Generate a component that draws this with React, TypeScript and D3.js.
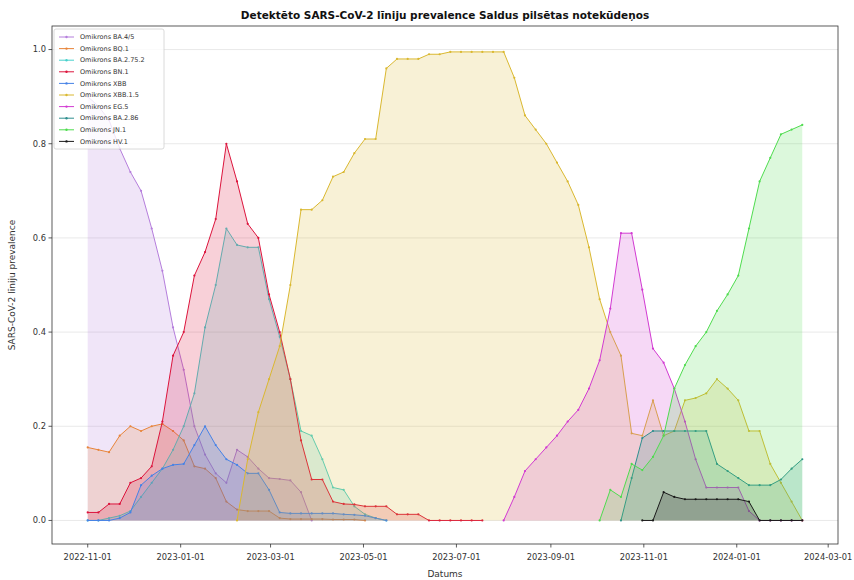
import * as d3 from "d3";

// weekly sampling, first sample 2022-11-01
const FIRST_WEEK = "2022-11-01";
const WEEK_COUNT = 68;

const SERIES_NAMES = [
  "Omikrons BA.4/5",
  "Omikrons BQ.1",
  "Omikrons BA.2.75.2",
  "Omikrons BN.1",
  "Omikrons XBB",
  "Omikrons XBB.1.5",
  "Omikrons EG.5",
  "Omikrons BA.2.86",
  "Omikrons JN.1",
  "Omikrons HV.1",
];
const SERIES_COLORS = [
  "#b57edc", "#e8853a", "#48d1cc", "#dc143c", "#4682e6",
  "#dab830", "#d23ad2", "#2f8f8f", "#4fdc4f", "#1a1a1a",
];
// index of the first week each series is reported for
const SERIES_START = [0, 0, 0, 0, 0, 14, 39, 50, 48, 52];

const BA45 = [0.9, 0.88, 0.85, 0.79, 0.74, 0.7, 0.62, 0.53, 0.41, 0.32, 0.2, 0.14, 0.1, 0.08, 0.15, 0.135, 0.11, 0.09, 0.088, 0.085, 0.06, 0];
const BQ1 = [0.155, 0.15, 0.145, 0.18, 0.2, 0.19, 0.2, 0.205, 0.19, 0.17, 0.115, 0.11, 0.09, 0.04, 0.023, 0.02, 0.02, 0.02, 0.005, 0.003, 0.003, 0.003, 0.003, 0.002, 0.002, 0.002, 0];
const BA2752 = [0, 0, 0.005, 0.01, 0.02, 0.05, 0.08, 0.11, 0.15, 0.2, 0.27, 0.41, 0.5, 0.62, 0.585, 0.58, 0.58, 0.47, 0.39, 0.3, 0.19, 0.18, 0.13, 0.07, 0.065, 0.03, 0.013, 0.005, 0];
const BN1 = [0.017, 0.017, 0.035, 0.035, 0.08, 0.09, 0.115, 0.21, 0.35, 0.4, 0.52, 0.57, 0.64, 0.8, 0.72, 0.63, 0.6, 0.48, 0.4, 0.3, 0.17, 0.087, 0.087, 0.04, 0.035, 0.034, 0.03, 0.03, 0.03, 0.013, 0.013, 0.013, 0, 0, 0, 0, 0, 0];
const XBB = [0, 0, 0, 0.005, 0.017, 0.075, 0.095, 0.11, 0.118, 0.12, 0.16, 0.2, 0.16, 0.13, 0.118, 0.1, 0.1, 0.065, 0.017, 0.015, 0.015, 0.015, 0.015, 0.015, 0.013, 0.012, 0.01, 0.005, 0];
const XBB15 = [0, 0.13, 0.23, 0.3, 0.37, 0.5, 0.66, 0.66, 0.68, 0.73, 0.74, 0.78, 0.81, 0.81, 0.96, 0.98, 0.98, 0.98, 0.99, 0.99, 0.995, 0.995, 0.995, 0.995, 0.995, 0.995, 0.94, 0.86, 0.83, 0.8, 0.76, 0.72, 0.67, 0.58, 0.47, 0.4, 0.35, 0.185, 0.18, 0.255, 0.18, 0.19, 0.255, 0.26, 0.27, 0.3, 0.28, 0.255, 0.19, 0.19, 0.12, 0.08, 0.04, 0];
const EG5 = [0, 0.05, 0.105, 0.13, 0.155, 0.18, 0.21, 0.235, 0.28, 0.34, 0.45, 0.61, 0.61, 0.49, 0.365, 0.335, 0.28, 0.21, 0.13, 0.07, 0.07, 0.07, 0.07, 0.02, 0, 0, 0, 0, 0];
const BA286 = [0, 0.09, 0.175, 0.19, 0.19, 0.19, 0.19, 0.19, 0.19, 0.12, 0.105, 0.09, 0.075, 0.075, 0.075, 0.087, 0.11, 0.13];
const JN1 = [0, 0.065, 0.05, 0.12, 0.107, 0.135, 0.18, 0.28, 0.33, 0.37, 0.4, 0.445, 0.48, 0.52, 0.62, 0.72, 0.77, 0.82, 0.83, 0.84];
const HV1 = [0, 0, 0.06, 0.05, 0.045, 0.045, 0.045, 0.045, 0.045, 0.045, 0.04, 0, 0, 0, 0, 0];

const SERIES_VALUES = [BA45, BQ1, BA2752, BN1, XBB, XBB15, EG5, BA286, JN1, HV1];

const X_TICKS = ["2022-11-01", "2023-01-01", "2023-03-01", "2023-05-01", "2023-07-01", "2023-09-01", "2023-11-01", "2024-01-01", "2024-03-01"];
const Y_TICKS = [0, 0.2, 0.4, 0.6, 0.8, 1.0];

const TITLE = "Detektēto SARS-CoV-2 līniju prevalence Saldus pilsētas notekūdeņos";
const X_LABEL = "Datums";
const Y_LABEL = "SARS-CoV-2 līniju prevalence";

const W = 854;
const H = 580;
const M = { left: 52, right: 16, top: 26, bottom: 36 };
const FONT = "DejaVu Sans, sans-serif";

const parse = d3.timeParse("%Y-%m-%d");
const weekDate = (k: number) => d3.timeDay.offset(parse(FIRST_WEEK)!, 7 * k);

type Pt = { date: Date; value: number };

export default function App() {
  const series = SERIES_NAMES.map((name, i) => ({
    name,
    color: SERIES_COLORS[i],
    points: SERIES_VALUES[i].map((v, j) => ({ date: weekDate(SERIES_START[i] + j), value: v })) as Pt[],
  }));

  const first = weekDate(0);
  const last = weekDate(WEEK_COUNT - 1);
  const pad = (last.getTime() - first.getTime()) * 0.05;

  const x = d3
    .scaleTime()
    .domain([new Date(first.getTime() - pad), new Date(last.getTime() + pad)])
    .range([M.left, W - M.right]);
  const y = d3.scaleLinear().domain([-0.05, 1.05]).range([H - M.bottom, M.top]);

  const line = d3.line<Pt>().x((d) => x(d.date)).y((d) => y(d.value));
  const area = d3
    .area<Pt>()
    .x((d) => x(d.date))
    .y0(y(0))
    .y1((d) => y(d.value));

  const plotL = M.left;
  const plotR = W - M.right;
  const plotT = M.top;
  const plotB = H - M.bottom;

  const legX = plotL + 2;
  const legY = plotT + 3;
  const rowH = 11.6;

  return (
    <svg
      width={W}
      height={H}
      style={{ position: "absolute", left: 0, top: 0, background: "#fff" }}
      fontFamily={FONT}
    >
      <rect x={0} y={0} width={W} height={H} fill="#fff" />

      {/* grid */}
      {Y_TICKS.map((t) => (
        <line key={t} x1={plotL} x2={plotR} y1={y(t)} y2={y(t)} stroke="#b0b0b0" strokeOpacity={0.35} strokeWidth={0.8} />
      ))}

      {/* areas + lines */}
      {series.map((s) => (
        <g key={s.name}>
          <path d={area(s.points)!} fill={s.color} fillOpacity={0.2} stroke="none" />
          <path d={line(s.points)!} fill="none" stroke={s.color} strokeWidth={1} />
          {s.points.map((p, j) => (
            <circle key={j} cx={x(p.date)} cy={y(p.value)} r={1.1} fill={s.color} />
          ))}
        </g>
      ))}

      {/* spines */}
      <rect x={plotL} y={plotT} width={plotR - plotL} height={plotB - plotT} fill="none" stroke="#333" strokeWidth={0.8} />

      {/* y axis */}
      {Y_TICKS.map((t) => (
        <g key={t}>
          <line x1={plotL - 3.5} x2={plotL} y1={y(t)} y2={y(t)} stroke="#333" strokeWidth={0.8} />
          <text x={plotL - 6} y={y(t)} dy="0.34em" textAnchor="end" fontSize={8.3} fill="#333">
            {d3.format(".1f")(t)}
          </text>
        </g>
      ))}

      {/* x axis */}
      {X_TICKS.map((t) => {
        const px = x(parse(t)!);
        return (
          <g key={t}>
            <line x1={px} x2={px} y1={plotB} y2={plotB + 3.5} stroke="#333" strokeWidth={0.8} />
            <text x={px} y={plotB + 16} textAnchor="middle" fontSize={8.3} fill="#333">
              {t}
            </text>
          </g>
        );
      })}

      <text x={(plotL + plotR) / 2} y={H - 3} textAnchor="middle" fontSize={9} fill="#333">
        {X_LABEL}
      </text>
      <text
        transform={`translate(${15},${(plotT + plotB) / 2}) rotate(-90)`}
        textAnchor="middle"
        fontSize={9}
        fill="#333"
      >
        {Y_LABEL}
      </text>
      <text x={(plotL + plotR) / 2} y={plotT - 7} textAnchor="middle" fontSize={10.5} fontWeight="bold" fill="#111">
        {TITLE}
      </text>

      {/* legend */}
      <rect
        x={legX}
        y={legY}
        width={110}
        height={rowH * SERIES_NAMES.length + 4}
        rx={2}
        fill="#fff"
        fillOpacity={0.8}
        stroke="#d0d0d0"
        strokeWidth={0.8}
      />
      {series.map((s, i) => {
        const cy = legY + 8 + i * rowH;
        return (
          <g key={s.name}>
            <line x1={legX + 5} x2={legX + 20} y1={cy} y2={cy} stroke={s.color} strokeWidth={1} />
            <circle cx={legX + 12.5} cy={cy} r={1.2} fill={s.color} />
            <text x={legX + 26} y={cy} dy="0.34em" fontSize={6.5} fill="#333">
              {s.name}
            </text>
          </g>
        );
      })}
    </svg>
  );
}
